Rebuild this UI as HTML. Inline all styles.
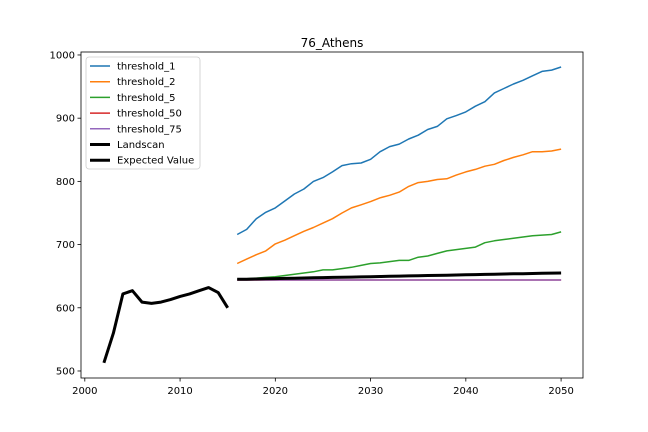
<!DOCTYPE html>
<html><head><meta charset="utf-8"><style>body{margin:0;background:#fff}svg{display:block}text{font-family:"DejaVu Sans","Liberation Sans",sans-serif}</style></head>
<body>
<svg id="chart" width="648" height="432">
<rect x="0" y="0" width="648" height="432" fill="#fff"/>
<text x="332" y="47" font-size="12" text-anchor="middle">76_Athens</text>
<g id="plot"></g>
<rect x="81" y="52" width="502" height="326" fill="none" stroke="#000" stroke-width="0.8"/>
<g id="axes"></g>
<g id="legend"></g>
</svg>
<script>
const years = Array.from({length:35},(_,i)=>2016+i);
const landscanYears = [2002,2003,2004,2005,2006,2007,2008,2009,2010,2011,2012,2013,2014,2015];
const landscan = [513,560,622,627,609,607,609,613,618,622,627,632,624,600];
const threshold1 = [716,724,741,751,758,769,780,788,800,806,815,825,828,829,835,847,855,859,867,873,882,887,899,904,910,919,926,940,947,954,960,967,974,976,981];
const threshold2 = [670,677,684,690,701,707,714,721,727,734,741,750,758,763,768,774,778,783,792,798,800,803,804,810,815,819,824,827,833,838,842,847,847,848,851];
const threshold5 = [645,646,647,648,649,651,653,655,657,660,660,662,664,667,670,671,673,675,675,680,682,686,690,692,694,696,703,706,708,710,712,714,715,716,720];
const threshold50 = years.map(()=>644);
const threshold75 = years.map(()=>644);
const expected = [645,645.3,645.6,645.9,646.2,646.5,646.8,647.1,647.4,647.7,648,648.3,648.6,648.9,649.2,649.5,649.8,650.1,650.4,650.7,651,651.3,651.6,651.9,652.2,652.5,652.8,653.1,653.4,653.7,654,654.3,654.5,654.8,655];
const xTicks = [2000,2010,2020,2030,2040,2050];
const yTicks = [500,600,700,800,900,1000];

const NS="http://www.w3.org/2000/svg";
const X0=81,X1=583,Y0=378,Y1=52,XMIN=1999.6,XMAX=2052.3,YMIN=488.9,YMAX=1004.7;
const sx=v=>X0+(v-XMIN)/(XMAX-XMIN)*(X1-X0);
const sy=v=>Y0-(v-YMIN)/(YMAX-YMIN)*(Y0-Y1);
const plot=document.getElementById('plot'),axes=document.getElementById('axes'),leg=document.getElementById('legend');
function mk(t,a,p){const e=document.createElementNS(NS,t);for(const k in a)e.setAttribute(k,a[k]);p.appendChild(e);return e;}
const series=[
 {n:'threshold_1',x:years,y:threshold1,c:'#1f77b4',w:1.5},
 {n:'threshold_2',x:years,y:threshold2,c:'#ff7f0e',w:1.5},
 {n:'threshold_5',x:years,y:threshold5,c:'#2ca02c',w:1.5},
 {n:'threshold_50',x:years,y:threshold50,c:'#d62728',w:1.5},
 {n:'threshold_75',x:years,y:threshold75,c:'#9467bd',w:1.5},
 {n:'Landscan',x:landscanYears,y:landscan,c:'#000',w:3},
 {n:'Expected Value',x:years,y:expected,c:'#000',w:3}];
series.forEach(s=>{
 const p=mk('polyline',{points:s.x.map((x,i)=>sx(x).toFixed(1)+','+sy(s.y[i]).toFixed(1)).join(' '),fill:'none',stroke:s.c,'stroke-width':s.w,'stroke-linejoin':'round'},plot);
 
 
});
xTicks.forEach(t=>{
 const x=sx(t);
 mk('line',{x1:x,x2:x,y1:Y0,y2:Y0+3.5,stroke:'#000','stroke-width':0.8},axes);
 const tx=mk('text',{x:x,y:Y0+16,'font-size':10,'text-anchor':'middle'},axes);tx.textContent=t;
 
 
});
yTicks.forEach(t=>{
 const y=sy(t);
 mk('line',{x1:X0-3.5,x2:X0,y1:y,y2:y,stroke:'#000','stroke-width':0.8},axes);
 const tx=mk('text',{x:X0-6,y:y+3.5,'font-size':10,'text-anchor':'end'},axes);tx.textContent=t;
 
 
});
mk('rect',{x:86,y:57,width:114,height:112,rx:3,fill:'#fff',stroke:'#ccc','stroke-width':0.8},leg);
series.forEach((s,i)=>{
 const y=66+i*15.7;
 mk('line',{x1:90,x2:110,y1:y,y2:y,stroke:s.c,'stroke-width':s.w},leg);
 const t=mk('text',{x:117,y:y+3.5,'font-size':10},leg);t.textContent=s.n;
 
 
});
</script>
</body></html>
